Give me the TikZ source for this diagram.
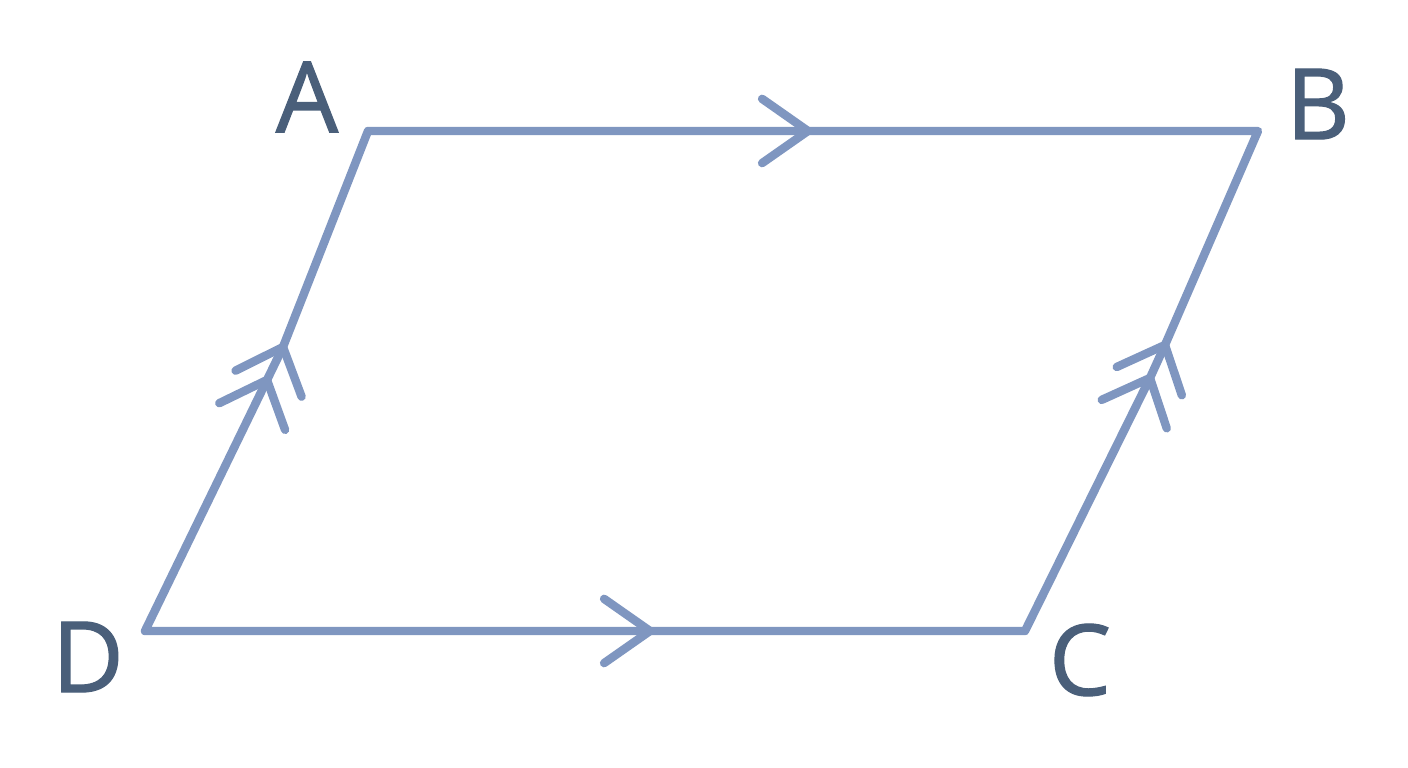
\documentclass[tikz,border=0pt]{standalone}
\usepackage{fontspec}
\setmainfont{Open Sans}
\newfontfamily\vertexfont{Open Sans}[FakeBold=1.2]
\usetikzlibrary{calc}
\definecolor{edgeblue}{HTML}{7F96C0}
\definecolor{labelslate}{HTML}{4A5F7A}

\begin{document}
\begin{tikzpicture}[x=0.01cm,y=-0.01cm,
    side/.style={color=edgeblue,line width=2.4pt,line cap=round,line join=round},
    vertex/.style={text=labelslate,font=\fontsize{28}{30}\vertexfont,inner sep=0pt}]
          \useasboundingbox (0,0) rectangle (1408,768);
          \coordinate (A) at (368,131);
          \coordinate (B) at (1258,131);
          \coordinate (C) at (1025,631);
          \coordinate (D) at (145,631);
          % parallel marks
          \coordinate (tAB) at (808,131);
          \coordinate (tDC) at (650,631);
          \coordinate (tDA1) at (283,347);
          \coordinate (tDA2) at (267,380);
          \coordinate (tCB1) at (1165,345);
          \coordinate (tCB2) at (1150,378);
          \draw[side] (A)--(B)--(tCB1)--(tCB2)--(C)--(D)--(tDA2)--(tDA1)--cycle;
          \draw[side] ($(tAB)!0.56cm!35:(A)$)--(tAB)--($(tAB)!0.56cm!-35:(A)$);
          \draw[side] ($(tDC)!0.56cm!35:(D)$)--(tDC)--($(tDC)!0.56cm!-35:(D)$);
          \draw[side] ($(tDA1)!-0.53cm!42:(A)$)--(tDA1)--($(tDA1)!-0.53cm!-42:(A)$);
          \draw[side] ($(tDA2)!-0.53cm!42:(A)$)--(tDA2)--($(tDA2)!-0.53cm!-42:(A)$);
          \draw[side] ($(tCB1)!-0.53cm!42:(B)$)--(tCB1)--($(tCB1)!-0.53cm!-42:(B)$);
          \draw[side] ($(tCB2)!-0.53cm!42:(B)$)--(tCB2)--($(tCB2)!-0.53cm!-42:(B)$);
          \node[vertex] (labA) at (307,97) {A};
          \node[vertex] (labB) at (1318,104) {B};
          \node[vertex] (labC) at (1080,660) {C};
          \node[vertex] (labD) at (88,657) {D};
        \end{tikzpicture}
\end{document}
